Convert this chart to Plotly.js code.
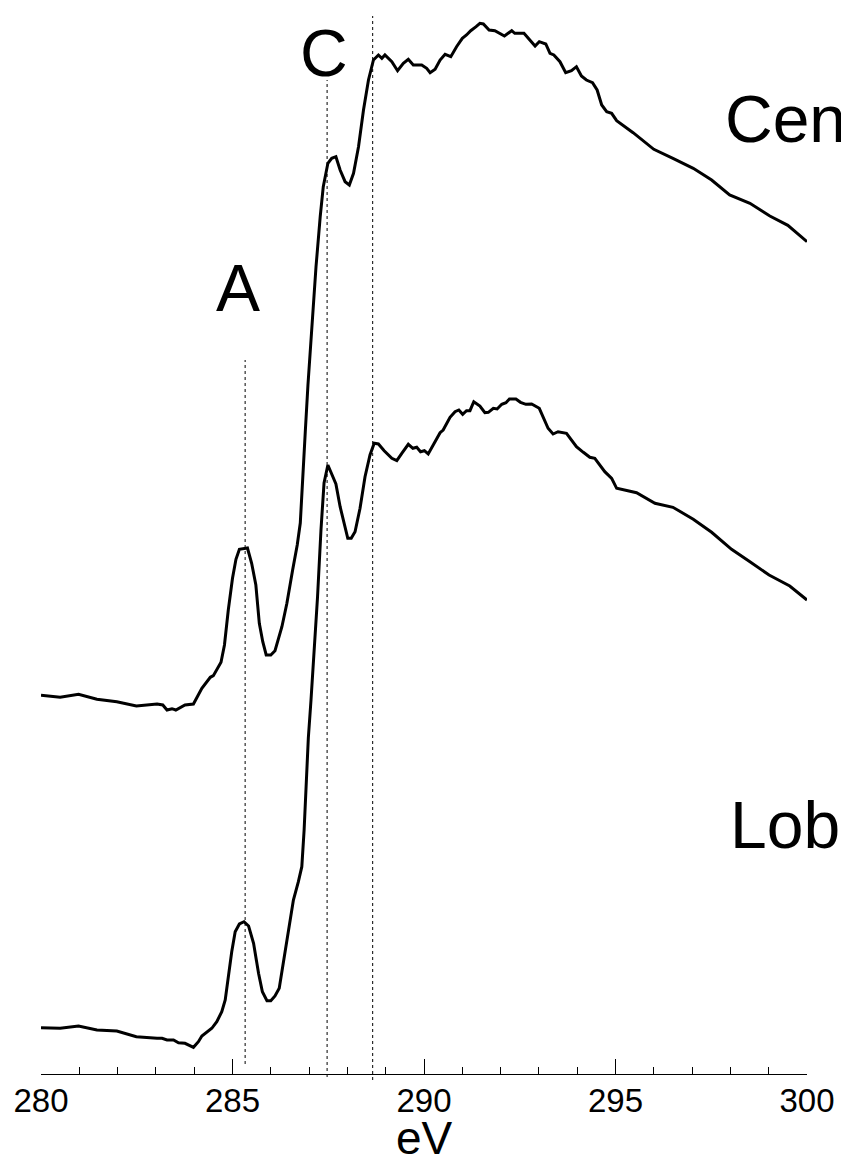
<!DOCTYPE html>
<html>
<head>
<meta charset="utf-8">
<script src="https://cdn.plot.ly/plotly-3.0.1.min.js"></script>
<style>html,body{margin:0;padding:0;background:#fff;}#chart{width:841px;height:1159px;}</style>
</head>
<body>
<div id="chart"></div>
<script>
// Photon energy (eV) and intensity (arbitrary units)
var centerEV = [280.00,280.50,280.98,281.46,281.98,282.49,283.03,283.18,283.29,283.42,283.52,283.76,283.98,284.20,284.42,284.50,284.70,284.79,284.89,285.00,285.09,285.18,285.39,285.50,285.61,285.70,285.79,285.88,286.00,286.11,286.29,286.42,286.57,286.69,286.77,286.84,286.90,286.97,287.04,287.10,287.18,287.29,287.37,287.49,287.59,287.70,287.81,287.94,288.05,288.16,288.29,288.42,288.55,288.68,288.81,288.90,288.98,289.16,289.31,289.46,289.59,289.72,289.94,290.07,290.16,290.29,290.42,290.55,290.70,290.85,291.00,291.11,291.22,291.36,291.46,291.55,291.70,291.85,291.98,292.10,292.29,292.37,292.61,292.77,292.90,293.01,293.18,293.29,293.39,293.55,293.70,293.85,293.98,294.11,294.24,294.40,294.52,294.64,294.77,294.90,295.03,295.46,296.00,296.50,297.03,297.51,297.98,298.51,299.03,299.50,300.00];
var centerI = [3.787,3.767,3.797,3.747,3.723,3.680,3.700,3.690,3.640,3.653,3.640,3.690,3.700,3.857,3.967,3.983,4.117,4.290,4.640,4.957,5.147,5.247,5.260,5.107,4.890,4.507,4.323,4.190,4.190,4.233,4.473,4.707,5.040,5.290,5.510,5.940,6.420,6.890,7.290,7.640,8.070,8.573,8.873,9.107,9.157,9.173,9.040,8.923,8.890,9.007,9.273,9.640,9.940,10.140,10.190,10.157,10.190,10.123,10.033,10.107,10.147,10.090,10.090,10.057,10.013,10.047,10.140,10.197,10.173,10.273,10.357,10.390,10.433,10.473,10.507,10.500,10.440,10.433,10.407,10.380,10.433,10.407,10.407,10.340,10.280,10.323,10.300,10.207,10.190,10.123,10.013,10.033,10.073,9.980,9.940,9.913,9.840,9.690,9.623,9.607,9.533,9.413,9.247,9.157,9.057,8.940,8.790,8.707,8.580,8.487,8.323];

var lobeEV = [280.00,280.50,280.98,281.46,281.98,282.49,283.03,283.16,283.29,283.46,283.59,283.76,283.98,284.11,284.20,284.46,284.59,284.72,284.81,284.89,284.98,285.07,285.18,285.30,285.42,285.55,285.68,285.78,285.90,286.00,286.11,286.22,286.31,286.46,286.59,286.72,286.81,286.87,286.92,286.98,287.05,287.13,287.22,287.31,287.39,287.49,287.59,287.70,287.81,287.94,288.01,288.10,288.20,288.33,288.46,288.59,288.70,288.81,288.96,289.16,289.29,289.42,289.59,289.71,289.81,289.91,290.01,290.11,290.27,290.42,290.50,290.68,290.81,290.91,291.01,291.11,291.20,291.30,291.46,291.59,291.68,291.81,291.91,292.03,292.14,292.23,292.40,292.52,292.66,292.81,293.01,293.13,293.24,293.37,293.50,293.72,293.85,293.98,294.16,294.33,294.46,294.59,294.72,294.90,295.03,295.55,296.03,296.50,297.03,297.51,298.03,298.51,299.01,299.55,300.00];
var lobeI = [0.463,0.457,0.480,0.440,0.430,0.373,0.357,0.357,0.340,0.340,0.313,0.307,0.267,0.323,0.380,0.457,0.523,0.623,0.740,0.973,1.223,1.423,1.500,1.523,1.480,1.307,1.007,0.823,0.733,0.733,0.780,0.857,1.073,1.440,1.740,1.923,2.073,2.440,2.910,3.360,3.740,4.190,4.770,5.440,5.910,6.090,6.007,5.900,5.673,5.457,5.357,5.357,5.423,5.657,5.973,6.190,6.307,6.300,6.233,6.157,6.133,6.207,6.297,6.257,6.267,6.223,6.233,6.200,6.307,6.413,6.440,6.567,6.623,6.640,6.597,6.633,6.633,6.723,6.680,6.613,6.617,6.657,6.650,6.697,6.713,6.750,6.750,6.717,6.697,6.700,6.657,6.557,6.457,6.400,6.423,6.407,6.340,6.273,6.217,6.167,6.157,6.090,6.023,5.957,5.857,5.813,5.707,5.667,5.547,5.417,5.247,5.123,4.990,4.880,4.740];

// Feature marker lines
var markerEV = [285.33, 287.47, 288.66];
var markerTop = [7.14, 9.94, 10.58];
var markerBottom = [0.10, -0.03, -0.06];

// Peak labels
var peakLabels = ["A", "C"];
var peakLabelEV = [285.15, 287.39];
var peakLabelI = [7.86, 10.21];

// Curve names
var curveNames = ["Center", "Lobe"];
var curveNameEV = [297.80, 297.94];
var curveNameI = [9.55, 2.49];

var xTickVals = [280, 285, 290, 295, 300];
var xTitle = "eV";

var FONT = "Liberation Sans, Arial, Helvetica, sans-serif";

var traces = [];
for (var i = 0; i < markerEV.length; i++) {
  traces.push({
    x: [markerEV[i], markerEV[i]],
    y: [markerBottom[i], markerTop[i]],
    mode: "lines",
    line: {color: "#000", width: 1, dash: "dot"},
    hoverinfo: "skip",
    showlegend: false
  });
}
traces.push({
  x: centerEV, y: centerI, mode: "lines", name: curveNames[0],
  line: {color: "#000", width: 3}, showlegend: false
});
traces.push({
  x: lobeEV, y: lobeI, mode: "lines", name: curveNames[1],
  line: {color: "#000", width: 3}, showlegend: false
});

var annotations = [];
for (var j = 0; j < peakLabels.length; j++) {
  annotations.push({
    x: peakLabelEV[j], y: peakLabelI[j], xref: "x", yref: "y",
    text: peakLabels[j], showarrow: false, xanchor: "center", yanchor: "middle",
    font: {family: FONT, size: 66, color: "#000"}
  });
}
for (var k = 0; k < curveNames.length; k++) {
  annotations.push({
    x: curveNameEV[k], y: curveNameI[k], xref: "x", yref: "y",
    text: curveNames[k], showarrow: false, xanchor: "left", yanchor: "middle",
    font: {family: FONT, size: 66, color: "#000"}
  });
}
// axis title placed as an annotation so it can sit low in the bottom margin
annotations.push({
  x: 0.5, y: 0, xref: "paper", yref: "paper",
  text: xTitle, showarrow: false, xanchor: "center", yanchor: "top",
  yshift: -28,
  font: {family: FONT, size: 46, color: "#000"}
});

var plotH = 1159 - 77;
var layout = {
  width: 841, height: 1159,
  margin: {l: 41, r: 34, t: 0, b: 77, pad: 0},
  paper_bgcolor: "#fff", plot_bgcolor: "#fff",
  showlegend: false,
  font: {family: FONT, color: "#000"},
  annotations: annotations,
  xaxis: {
    range: [280, 300],
    anchor: "free", position: 8 / plotH,
    showline: true, linecolor: "#000", linewidth: 1,
    ticks: "inside", ticklen: 15, tickwidth: 1, tickcolor: "#000",
    tickmode: "array", tickvals: xTickVals,
    ticklabelstandoff: -3,
    minor: {dtick: 1, ticks: "inside", ticklen: 7, tickwidth: 1, tickcolor: "#000", showgrid: false},
    showgrid: false, zeroline: false,
    tickfont: {family: FONT, size: 33, color: "#000"}
  },
  yaxis: {range: [-0.08, 10.74], visible: false, showgrid: false, zeroline: false}
};

Plotly.newPlot("chart", traces, layout, {displayModeBar: false, staticPlot: true});
</script>
</body>
</html>
